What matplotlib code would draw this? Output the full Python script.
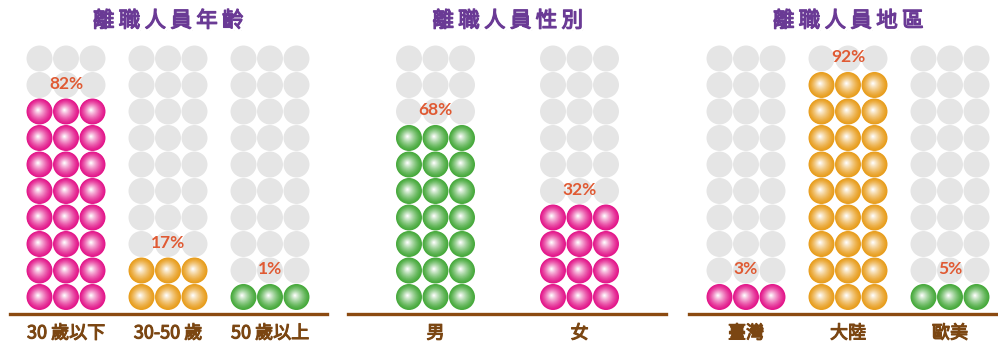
import numpy as np
import matplotlib.pyplot as plt
import matplotlib.patheffects as pe
from matplotlib.patches import Circle
from matplotlib.colors import to_rgb

plt.rcParams['font.family'] = ['Noto Sans CJK TC', 'DejaVu Sans']

# data
titles = ['離職人員年齡', '離職人員性別', '離職人員地區']

age_labels = ['30 歲以下', '30-50 歲', '50 歲以上']
age_pct = [82, 17, 1]
age_rows = [8, 2, 1]
age_colors = ['pink', 'orange', 'green']

sex_labels = ['男', '女']
sex_pct = [68, 32]
sex_rows = [7, 4]
sex_colors = ['green', 'pink']

area_labels = ['臺灣', '大陸', '歐美']
area_pct = [3, 92, 5]
area_rows = [1, 9, 1]
area_colors = ['pink', 'orange', 'green']

n_rows = 10
n_cols = 3

palette = {'pink': '#e3168a', 'orange': '#e89d1c', 'green': '#46a93b'}
grey = '#e5e5e5'
purple = '#6a3a95'
pct_color = '#e05a33'
brown = '#7b4612'
axis_brown = '#8b4a10'

# layout in pixels
W, H = 998, 342
U = 26.5          # pixels per circle pitch
base_px = 297     # centre of bottom row
line_px = 314     # baseline
R = 0.49          # circle radius in pitch units

panels = [
    # left, right, first group centre, group spacing
    (10, 327, 66, 102),
    (348, 666, 435.5, 144),
    (689, 997, 746, 102),
]
groups = [
    (age_labels, age_pct, age_rows, age_colors),
    (sex_labels, sex_pct, sex_rows, sex_colors),
    (area_labels, area_pct, area_rows, area_colors),
]


def ball(ax, x, y, color, layers=22):
    # fake radial gradient: stack shrinking circles going to white
    c = np.array(to_rgb(color))
    for i in range(layers):
        t = i / (layers - 1)
        r = R * (1 - 0.96 * t)
        f = t ** 1.3
        col = c * (1 - f) + np.ones(3) * f
        ax.add_patch(Circle((x - 0.06 * t, y + 0.06 * t), r, color=col, lw=0))


def fat(color, lw=0.7):
    # CJK font has no bold face here, thicken with a stroke
    return [pe.Stroke(linewidth=lw, foreground=color), pe.Normal()]


fig = plt.figure(figsize=(W / 100, H / 100), dpi=100)

for (left, right, c0, sp), title, (labels, pct, rows, cols) in zip(panels, titles, groups):
    ax = fig.add_axes([left / W, 1 - line_px / H, (right - left) / W, line_px / H])
    sp_u = sp / U
    ax.set_xlim((left - c0) / U, (right - c0) / U)
    ax.set_ylim(-(line_px - base_px) / U, base_px / U)

    centers = [i * sp_u for i in range(len(labels))]
    for gx, p, nr, cname in zip(centers, pct, rows, cols):
        for r in range(n_rows):
            for c in range(n_cols):
                x = gx + (c - 1)
                if r < nr:
                    ball(ax, x, r, palette[cname])
                else:
                    ax.add_patch(Circle((x, r), R, color=grey, lw=0))
        ax.text(gx, nr + 0.05, f'{p}%', ha='center', va='center',
                fontsize=12.5, fontweight='bold', color=pct_color,
                family=['Lato', 'DejaVu Sans'])

    ax.text(np.mean(centers), (base_px - 21) / U, '\u2009'.join(title),
            ha='center', va='center', fontsize=15.5, color=purple,
            path_effects=[pe.SimplePatchShadow(offset=(1.5, -1.5), shadow_rgbFace='#888888', alpha=0.5),
                          pe.Stroke(linewidth=4.5, foreground='white'),
                          pe.Stroke(linewidth=0.9, foreground=purple), pe.Normal()])

    for s in ['top', 'left', 'right']:
        ax.spines[s].set_visible(False)
    ax.spines['bottom'].set_color(axis_brown)
    ax.spines['bottom'].set_linewidth(2.4)
    ax.set_yticks([])
    ax.set_xticks(centers)
    ax.set_xticklabels(labels, fontsize=13, color=brown)
    for t in ax.get_xticklabels():
        t.set_path_effects(fat(brown, 0.8))
    ax.tick_params(axis='x', length=0, pad=7.5)
    ax.patch.set_alpha(0)

fig.savefig('out.png', dpi=100)
